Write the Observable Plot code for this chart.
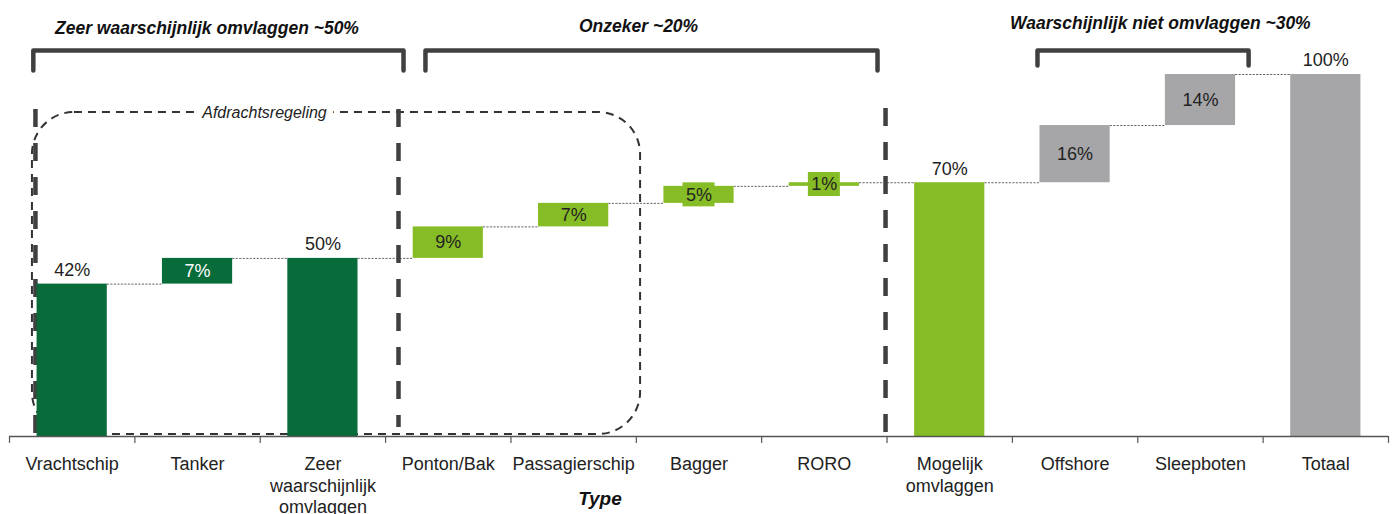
<!DOCTYPE html>
<html><head><meta charset="utf-8">
<script src="https://cdn.jsdelivr.net/npm/d3@7"></script>
<script src="https://cdn.jsdelivr.net/npm/@observablehq/plot@0.6"></script>
<style>
body{margin:0;background:#fff;}
#chart svg{display:block;}
</style>
</head><body><div id="chart"></div>
<script>
// ---- data ----
const categories = ["Vrachtschip", "Tanker", "Zeer\nwaarschijnlijk\nomvlaggen", "Ponton/Bak", "Passagierschip", "Bagger", "RORO", "Mogelijk\nomvlaggen", "Offshore", "Sleepboten", "Totaal"];
const kinds = ["start", "delta", "total", "delta", "delta", "delta", "delta", "total", "delta", "delta", "total"];
const deltas = [42.1, 7.1, null, 8.7, 6.5, 4.7, 1.0, null, 15.8, 14.1, null];
const valueLabels = ["42%", "7%", "50%", "9%", "7%", "5%", "1%", "70%", "16%", "14%", "100%"];
const groupOf = ["zeker", "zeker", "zeker", "onzeker", "onzeker", "onzeker", "onzeker", "onzeker", "niet", "niet", "niet"];
const groupTitles = ["Zeer waarschijnlijk omvlaggen ~50%", "Onzeker ~20%", "Waarschijnlijk niet omvlaggen ~30%"];
const regionLabel = "Afdrachtsregeling";
const axisTitle = "Type";

// ---- styles / layout ----
const W = 1394, H = 514, mL = 9, mR = 6, mT = 74, mB = 78;
const colors = {zeker: "#076b3a", onzeker: "#86bc25", niet: "#a6a6a8"};
const pad = 0.22;                       // bar padding on each side (fraction of step)
const step = (W - mL - mR) / categories.length;
const font = "'Liberation Sans', Arial, Helvetica, sans-serif";

// ---- waterfall ----
let running = 0;
const bars = categories.map((c, i) => {
  let y1, y2;
  if (kinds[i] === "total") { y1 = 0; y2 = running; }
  else { y1 = running; y2 = running + deltas[i]; }
  running = y2;
  const outside = kinds[i] !== "delta";
  return {i, c, outside, y1, y2, mid: (y1 + y2) / 2, label: valueLabels[i], fill: colors[groupOf[i]], small: !outside && (y2 - y1) * 3.62 < 22};
});
const connectors = bars.slice(0, -1).map((b, i) => ({x1: i + 1 - pad, x2: i + 1 + pad, y: b.y2}));

// ---- annotation layout (in axis units) ----
const brackets = [
  {id: 0, x1: 0.19, x2: 3.143, top: 106.6, bottom: 101.1},
  {id: 1, x1: 3.318, x2: 6.924, top: 106.6, bottom: 101.1},
  {id: 2, x1: 8.20, x2: 9.884, top: 106.6, bottom: 102.5}
];
const bracketPts = brackets.flatMap(b => [
  {id: b.id, x: b.x1, y: b.bottom}, {id: b.id, x: b.x1, y: b.top},
  {id: b.id, x: b.x2, y: b.top}, {id: b.id, x: b.x2, y: b.bottom}
]);
const titlePos = [{x: 1.575, y: 112.6}, {x: 5.018, y: 113.4}, {x: 9.18, y: 114.2}];
const dividers = [{x: 0.207, y1: 90.3, y2: 0}, {x: 3.103, y1: 90.3, y2: 2.5}, {x: 6.988, y1: 90.6, y2: 0}];

const plot = Plot.plot({
  width: W, height: H,
  marginLeft: mL, marginRight: mR, marginTop: mT, marginBottom: mB,
  style: {fontFamily: font, fontSize: "18px", color: "#222", background: "#fff", overflow: "visible"},
  x: {domain: [0, categories.length], axis: null},
  y: {domain: [0, 100], axis: null},
  marks: [
    // connectors
    Plot.ruleY(connectors, {x1: "x1", x2: "x2", y: "y", stroke: "#666", strokeWidth: 1, strokeDasharray: "2.2,1.3"}),
    // rounded dashed region
    Plot.rect([{}], {x1: 0.183, x2: 5.034, y1: 0.55, y2: 89.5, rx: 42, ry: 42, fill: "none", stroke: "#333", strokeWidth: 2, strokeDasharray: "8,6"}),
    Plot.text([regionLabel], {x: 2.034, y: 89.5, text: d => d, fontStyle: "italic", fontSize: 16, fill: "#222", stroke: "#fff", strokeWidth: 14, paintOrder: "stroke"}),
    // thick dashed dividers
    Plot.ruleX(dividers, {x: "x", y1: "y1", y2: "y2", stroke: "#404040", strokeWidth: 4.5, strokeDasharray: "18,16"}),
    // brackets
    Plot.line(bracketPts, {x: "x", y: "y", z: "id", stroke: "#404040", strokeWidth: 4.5, strokeLinejoin: "round", curve: "linear"}),
    Plot.text(groupTitles, {x: (d, i) => titlePos[i].x, y: (d, i) => titlePos[i].y, text: d => d, fontWeight: "bold", fontStyle: "italic", fontSize: 17.5, fill: "#111"}),
    // bars
    Plot.rectY(bars, {x1: d => d.i + pad, x2: d => d.i + 1 - pad, y1: "y1", y2: "y2", fill: "fill"}),
    // label boxes for small bars
    Plot.rect(bars.filter(d => d.small), {x1: d => d.i, x2: d => d.i + 1, y1: "mid", y2: "mid", fill: "fill", insetLeft: (step - 32) / 2, insetRight: (step - 32) / 2, insetTop: -12, insetBottom: -12}),
    // value labels
    Plot.text(bars.filter(d => d.outside), {x: d => d.i + 0.5, y: "y2", text: "label", dy: -14, fontSize: 18, fill: "#222"}),
    Plot.text(bars.filter(d => !d.outside), {x: d => d.i + 0.5, y: "mid", text: "label", fontSize: 18, fill: d => d.fill === colors.zeker ? "#fff" : "#222"}),
    // axis
    Plot.ruleY([0], {stroke: "#555", strokeWidth: 1.5}),
    Plot.ruleX(d3.range(categories.length + 1), {x: d => d, y1: 0, y2: -1.9, stroke: "#555", strokeWidth: 1.2}),
    Plot.axisX(d3.range(categories.length).map(i => i + 0.5), {tickSize: 0, tickPadding: 19, tickFormat: d => categories[Math.floor(d)], fontSize: 18, lineHeight: 1.17, fill: "#222", label: null}),
    Plot.text([axisTitle], {x: 4.71, y: 0, dy: 62, text: d => d, fontWeight: "bold", fontStyle: "italic", fontSize: 19, fill: "#111"})
  ]
});
document.getElementById("chart").appendChild(plot);
</script>
</body></html>
